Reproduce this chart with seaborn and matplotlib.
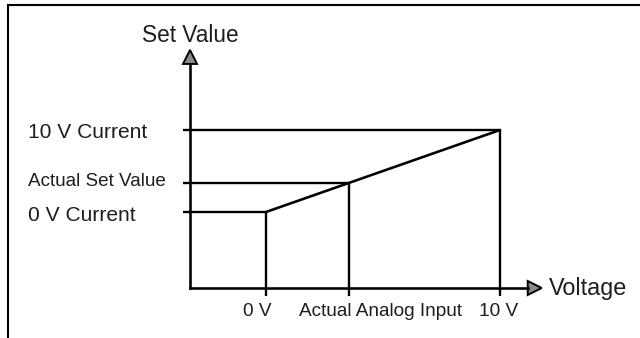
import matplotlib
matplotlib.use("Agg")
import matplotlib.pyplot as plt
from matplotlib.patches import Polygon
from matplotlib.lines import Line2D
import seaborn as sns

# Linear characteristic: analog input voltage -> set value
# (set value expressed so that 0 = "0 V Current", 10 = "10 V Current")
char_voltage = [0.0, 10.0]
char_setvalue = [0.0, 10.0]

# Marked operating points along both axes
voltage_ticks = [0.0, 3.55, 10.0]
voltage_labels = ["0 V", "Actual Analog Input", "10 V"]
setvalue_ticks = [0.0, 3.55, 10.0]
setvalue_labels = ["0 V Current", "Actual Set Value", "10 V Current"]

x_title = "Voltage"
y_title = "Set Value"

# ---------------------------------------------------------------- layout
W, H, DPI = 640, 338, 100
XLIM = (-11.37, 15.98)
YLIM = (-15.37, 25.85)
ORIGIN_V, ORIGIN_S = -3.25, -9.27      # where the two axes cross
X_TIP, Y_TIP = 11.78, 19.76            # arrow tips
SX = W / (XLIM[1] - XLIM[0])           # pixels per voltage unit
SY = H / (YLIM[1] - YLIM[0])           # pixels per set-value unit

INK = "black"
TXT = "#1e1e1e"
LW = 1.7

sns.set_theme(style="white")
plt.rcParams["font.family"] = ["Liberation Sans", "DejaVu Sans"]

fig = plt.figure(figsize=(W / DPI, H / DPI), dpi=DPI)
ax = fig.add_axes([0, 0, 1, 1])
ax.set_xlim(*XLIM)
ax.set_ylim(*YLIM)
ax.set_axis_off()

# outer frame (left and top edges)
fx, fy = 8 / W, 1 - 5 / H
fig.add_artist(Line2D([fx, fx], [0, fy], transform=fig.transFigure,
                      color=INK, lw=1.5, solid_capstyle="projecting"))
fig.add_artist(Line2D([fx, 1], [fy, fy], transform=fig.transFigure,
                      color=INK, lw=1.5, solid_capstyle="projecting"))

# axes lines with arrowheads
ah_len, ah_half = 14, 7  # pixels
ax.plot([ORIGIN_V, ORIGIN_V], [ORIGIN_S, Y_TIP - ah_len / SY], color=INK,
        lw=LW * 1.1, solid_capstyle="projecting")
ax.plot([ORIGIN_V, X_TIP - ah_len / SX], [ORIGIN_S, ORIGIN_S], color=INK,
        lw=LW * 1.1, solid_capstyle="projecting")
ax.add_patch(Polygon([(ORIGIN_V, Y_TIP),
                      (ORIGIN_V - ah_half / SX, Y_TIP - ah_len / SY),
                      (ORIGIN_V + ah_half / SX, Y_TIP - ah_len / SY)],
                     closed=True, fc="#8a8a8a", ec=INK, lw=1.4, joinstyle="miter"))
ax.add_patch(Polygon([(X_TIP, ORIGIN_S),
                      (X_TIP - ah_len / SX, ORIGIN_S + ah_half / SY),
                      (X_TIP - ah_len / SX, ORIGIN_S - ah_half / SY)],
                     closed=True, fc="#8a8a8a", ec=INK, lw=1.4, joinstyle="miter"))

# projection lines from each operating point to both axes (with tick stubs)
tick_v = ORIGIN_V - 7 / SX
tick_s = ORIGIN_S - 8 / SY
for v, s in zip(voltage_ticks, setvalue_ticks):
    ax.plot([tick_v, v], [s, s], color=INK, lw=LW, solid_capstyle="butt")
    ax.plot([v, v], [s, tick_s], color=INK, lw=LW, solid_capstyle="butt")

# the characteristic itself
sns.lineplot(x=char_voltage, y=char_setvalue, ax=ax, color=INK, lw=LW * 1.1,
             legend=False)

# axis titles
ax.annotate(y_title, xy=(ORIGIN_V, Y_TIP), xytext=(0, 8),
            textcoords="offset pixels", ha="center", va="baseline",
            fontsize=16.3, color=TXT)
ax.annotate(x_title, xy=(X_TIP, ORIGIN_S), xytext=(7.5, -7),
            textcoords="offset pixels", ha="left", va="baseline",
            fontsize=16.8, color=TXT)

# labels on the voltage axis
x_label_shift = [-9, 31, -2]
for v, lab, dx in zip(voltage_ticks, voltage_labels, x_label_shift):
    ax.annotate(lab, xy=(v, ORIGIN_S), xytext=(dx, -28),
                textcoords="offset pixels", ha="center", va="baseline",
                fontsize=13.7, color=TXT)

# labels on the set-value axis
y_label_drop = [9, 3, 8.3]
y_label_size = [15.1, 13.6, 15.1]
for s, lab, dy, fs in zip(setvalue_ticks, setvalue_labels, y_label_drop, y_label_size):
    ax.annotate(lab, xy=(28.5 / W, s), xycoords=("axes fraction", "data"),
                xytext=(0, -dy), textcoords="offset pixels",
                ha="left", va="baseline", fontsize=fs, color=TXT)

fig.savefig("out.png", dpi=DPI, facecolor="white")
